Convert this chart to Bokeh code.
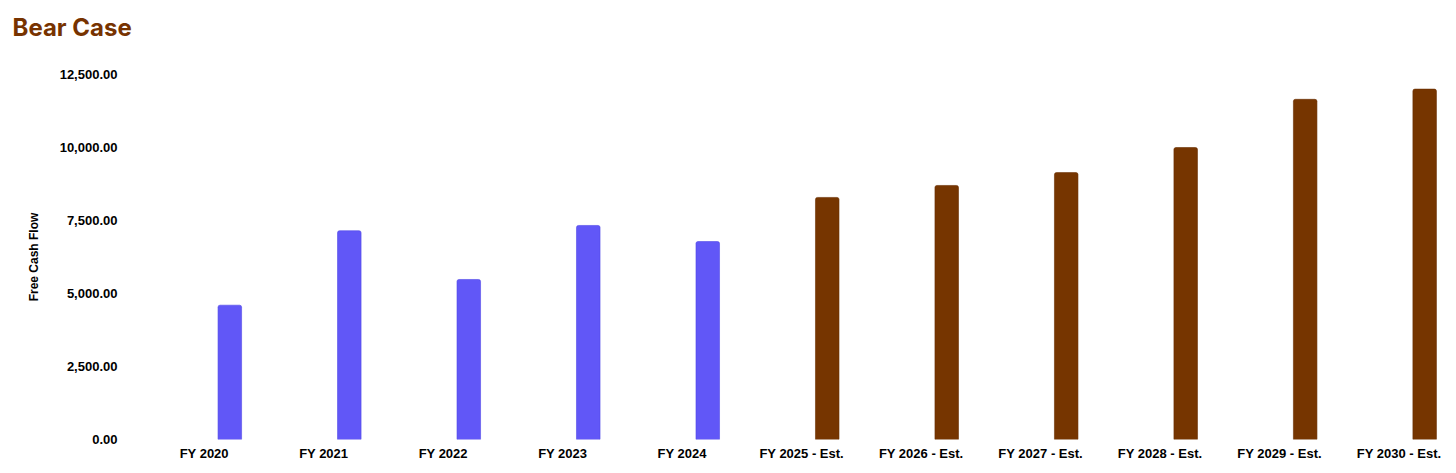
from bokeh.plotting import figure
from bokeh.models import ColumnDataSource, FixedTicker, NumeralTickFormatter, Range1d, Title
from bokeh.transform import dodge
from bokeh.embed import file_html
from bokeh.resources import INLINE

categories = ["FY 2020", "FY 2021", "FY 2022", "FY 2023", "FY 2024",
              "FY 2025 - Est.", "FY 2026 - Est.", "FY 2027 - Est.", "FY 2028 - Est.",
              "FY 2029 - Est.", "FY 2030 - Est."]
free_cash_flow = [4600, 7150, 5480, 7330, 6780, 8290, 8700, 9140, 10000, 11650, 12000]
y_ticks = [0, 2500, 5000, 7500, 10000, 12500]
chart_title = "Bear Case"

ACTUAL_COLOR = "#6157F7"
EST_COLOR = "#763500"
TITLE_COLOR = "#773300"

idx = list(range(len(categories)))
is_est = ["Est." in c for c in categories]
src_act = ColumnDataSource(dict(x=[i for i, e in zip(idx, is_est) if not e],
                                y=[v for v, e in zip(free_cash_flow, is_est) if not e]))
src_est = ColumnDataSource(dict(x=[i for i, e in zip(idx, is_est) if e],
                                y=[v for v, e in zip(free_cash_flow, is_est) if e]))

p = figure(width=1448, height=466, output_backend="svg", toolbar_location=None,
           x_range=Range1d(-0.5, 10.38), y_range=Range1d(0, 12500),
           min_border_left=144, min_border_right=4, min_border_top=74, min_border_bottom=27)
p.outline_line_color = None

# spacer panel between frame and title (nearest the frame)
p.add_layout(Title(text=" ", text_font_size="1px", standoff=30), "above")
# the visible title, stacked above the spacer
p.add_layout(Title(text=chart_title, text_font="Inter", text_font_size="24px",
                   text_font_style="bold", text_color=TITLE_COLOR, align="left",
                   offset=-132, standoff=0), "above")

bar_kw = dict(top="y", bottom=0, width=0.197, border_radius=(2, 2, 0, 0))
p.vbar(x=dodge("x", 0.214), source=src_act, fill_color=ACTUAL_COLOR,
       line_color="#5148E8", line_width=0.6, **bar_kw)
p.vbar(x=dodge("x", 0.214), source=src_est, fill_color=EST_COLOR,
       line_color="#6A2F00", line_width=0.6, **bar_kw)

p.xgrid.visible = False
p.ygrid.visible = False

for ax in (p.xaxis[0], p.yaxis[0]):
    ax.axis_line_color = None
    ax.major_tick_line_color = None
    ax.minor_tick_line_color = None
    ax.major_tick_out = 0
    ax.major_tick_in = 0
    ax.minor_tick_out = 0
    ax.major_label_text_font = "Liberation Sans"
    ax.major_label_text_font_style = "bold"
    ax.major_label_text_font_size = "13px"
    ax.major_label_text_color = "#000000"

p.xaxis.ticker = FixedTicker(ticks=idx)
p.xaxis.major_label_overrides = {i: c for i, c in zip(idx, categories)}
p.xaxis.major_label_standoff = 6

p.yaxis.ticker = FixedTicker(ticks=y_ticks)
p.yaxis.formatter = NumeralTickFormatter(format="0,0.00")
p.yaxis.major_label_standoff = 27
p.yaxis.axis_label = "Free Cash Flow"
p.yaxis.axis_label_text_font = "Liberation Sans"
p.yaxis.axis_label_text_font_style = "bold"
p.yaxis.axis_label_text_font_size = "12px"
p.yaxis.axis_label_text_color = "#000000"
p.yaxis.axis_label_standoff = 16

open("out.html", "w").write(file_html(p, INLINE))
